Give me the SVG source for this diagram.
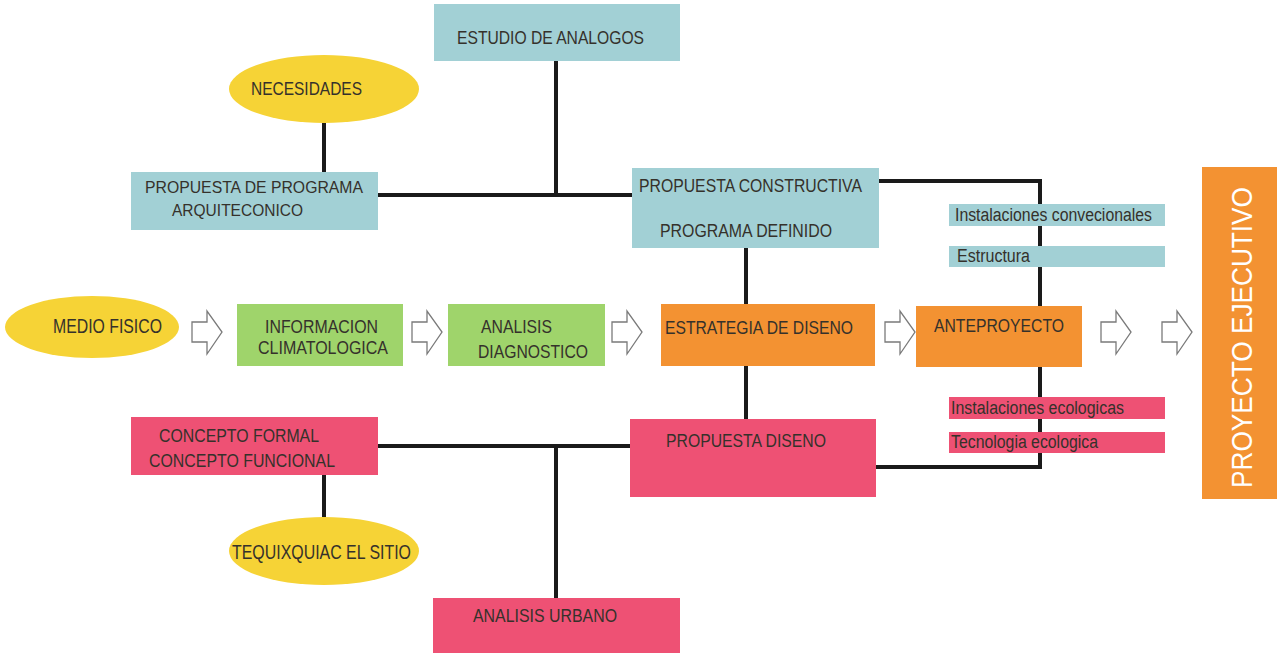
<svg xmlns="http://www.w3.org/2000/svg" width="1277" height="653" viewBox="0 0 1277 653">
<style>
.blue{fill:#a2d0d5}
.yel{fill:#f6d336}
.grn{fill:#9fd46b}
.org{fill:#f39232}
.pnk{fill:#ee5174}
.t{font-family:"Liberation Sans Narrow","Liberation Sans",Arial,sans-serif;font-size:19px;fill:#35312b}
.s{font-family:"Liberation Sans Narrow","Liberation Sans",Arial,sans-serif;font-size:18px;fill:#35312b}
.ln{stroke:#1a1a1a;stroke-width:4;fill:none}
.arr{fill:#ffffff;stroke:#7a7a7a;stroke-width:1.3}
</style>
<defs>
<path id="ar" class="arr" d="M0 -10 H15 V-21 L30 0 L15 22 V10 H0 Z"/>
</defs>
<rect width="1277" height="653" fill="#ffffff"/>
<g id="connectors">
<path class="ln" d="M556 61 V195"/>
<path class="ln" d="M324 123 V172"/>
<path class="ln" d="M378 195 H632"/>
<path class="ln" d="M879 181 H1040 V306"/>
<path class="ln" d="M746 248 V304"/>
<path class="ln" d="M746 366 V419"/>
<path class="ln" d="M876 467 H1040 V367"/>
<path class="ln" d="M378 446 H630"/>
<path class="ln" d="M556 446 V598"/>
<path class="ln" d="M324 475 V517"/>
<use href="#ar" x="192" y="332"/>
<use href="#ar" x="412" y="332"/>
<use href="#ar" x="612" y="332"/>
<use href="#ar" x="885" y="332"/>
<use href="#ar" x="1101" y="332"/>
<use href="#ar" x="1162" y="332"/>
</g>
<g id="estudio">
<rect class="blue" x="434" y="4" width="246" height="57"/>
<text class="t" x="457" y="44" style="font-size:17.5px" textLength="187" lengthAdjust="spacingAndGlyphs">ESTUDIO DE ANALOGOS</text>
</g>
<g id="necesidades">
<ellipse class="yel" cx="324" cy="89" rx="95" ry="34"/>
<text class="t" x="251" y="95" style="font-size:18.5px" textLength="111" lengthAdjust="spacingAndGlyphs">NECESIDADES</text>
</g>
<g id="programa">
<rect class="blue" x="131" y="172" width="247" height="58"/>
<text class="t" x="145" y="193" style="font-size:17px" textLength="218" lengthAdjust="spacingAndGlyphs">PROPUESTA DE PROGRAMA</text>
<text class="t" x="172" y="216" style="font-size:17px" textLength="131" lengthAdjust="spacingAndGlyphs">ARQUITECONICO</text>
</g>
<g id="constructiva">
<rect class="blue" x="632" y="168" width="247" height="80"/>
<text class="t" x="639" y="192" textLength="223" lengthAdjust="spacingAndGlyphs">PROPUESTA CONSTRUCTIVA</text>
<text class="t" x="660" y="237" textLength="172" lengthAdjust="spacingAndGlyphs">PROGRAMA DEFINIDO</text>
</g>
<g id="inst-conv">
<rect class="blue" x="949" y="204" width="216" height="22"/>
<text class="s" x="955" y="221" textLength="197" lengthAdjust="spacingAndGlyphs">Instalaciones convecionales</text>
</g>
<g id="estructura">
<rect class="blue" x="949" y="246" width="216" height="21"/>
<text class="s" x="957" y="262" textLength="73" lengthAdjust="spacingAndGlyphs">Estructura</text>
</g>
<g id="medio">
<ellipse class="yel" cx="92" cy="327" rx="87" ry="31"/>
<text class="t" x="53" y="333" style="font-size:20px" textLength="109" lengthAdjust="spacingAndGlyphs">MEDIO FISICO</text>
</g>
<g id="informacion">
<rect class="grn" x="237" y="304" width="166" height="62"/>
<text class="t" x="265" y="333" textLength="113" lengthAdjust="spacingAndGlyphs">INFORMACION</text>
<text class="t" x="258" y="354" textLength="130" lengthAdjust="spacingAndGlyphs">CLIMATOLOGICA</text>
</g>
<g id="analisis">
<rect class="grn" x="448" y="304" width="157" height="62"/>
<text class="t" x="481" y="333" textLength="71" lengthAdjust="spacingAndGlyphs">ANALISIS</text>
<text class="t" x="478" y="358" textLength="110" lengthAdjust="spacingAndGlyphs">DIAGNOSTICO</text>
</g>
<g id="estrategia">
<rect class="org" x="661" y="304" width="214" height="62"/>
<text class="t" x="665" y="334" textLength="188" lengthAdjust="spacingAndGlyphs">ESTRATEGIA DE DISENO</text>
</g>
<g id="anteproyecto">
<rect class="org" x="916" y="306" width="166" height="61"/>
<text class="t" x="934" y="332" textLength="130" lengthAdjust="spacingAndGlyphs">ANTEPROYECTO</text>
</g>
<g id="inst-eco">
<rect class="pnk" x="949" y="397" width="216" height="22"/>
<text class="s" x="951" y="414" textLength="173" lengthAdjust="spacingAndGlyphs">Instalaciones ecologicas</text>
</g>
<g id="tec-eco">
<rect class="pnk" x="949" y="432" width="216" height="21"/>
<text class="s" x="951" y="448" textLength="147" lengthAdjust="spacingAndGlyphs">Tecnologia ecologica</text>
</g>
<g id="concepto">
<rect class="pnk" x="131" y="417" width="247" height="58"/>
<text class="t" x="159" y="442" textLength="160" lengthAdjust="spacingAndGlyphs">CONCEPTO FORMAL</text>
<text class="t" x="149" y="467" textLength="186" lengthAdjust="spacingAndGlyphs">CONCEPTO FUNCIONAL</text>
</g>
<g id="propuesta-diseno">
<rect class="pnk" x="630" y="419" width="246" height="78"/>
<text class="t" x="666" y="447" textLength="160" lengthAdjust="spacingAndGlyphs">PROPUESTA DISENO</text>
</g>
<g id="tequixquiac">
<ellipse class="yel" cx="324" cy="551" rx="95" ry="34"/>
<text class="t" x="232" y="559" style="font-size:20.5px" textLength="179" lengthAdjust="spacingAndGlyphs">TEQUIXQUIAC EL SITIO</text>
</g>
<g id="urbano">
<rect class="pnk" x="433" y="598" width="247" height="55"/>
<text class="t" x="473" y="622" textLength="144" lengthAdjust="spacingAndGlyphs">ANALISIS URBANO</text>
</g>
<g id="proyecto-ejecutivo">
<rect class="org" x="1202" y="167" width="75" height="332"/>
<text x="0" y="0" transform="translate(1252 488) rotate(-90)" textLength="301" lengthAdjust="spacingAndGlyphs" style="font-family:'Liberation Sans',Arial,sans-serif;font-size:30px;fill:#ffffff">PROYECTO EJECUTIVO</text>
</g>
</svg>
